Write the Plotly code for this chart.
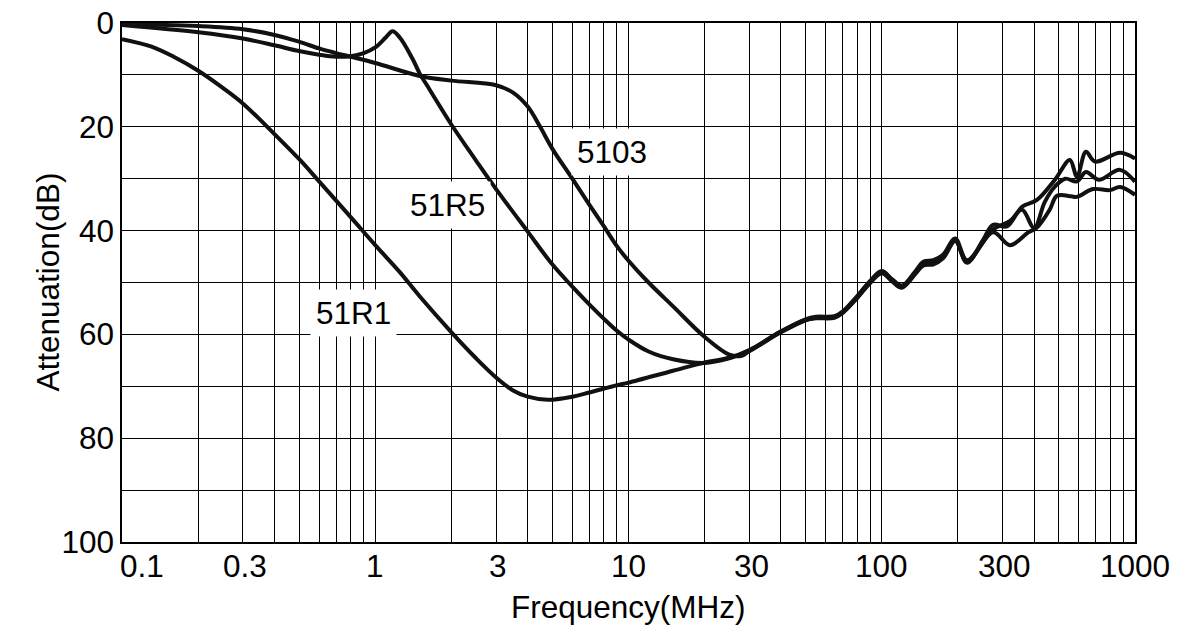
import math
import plotly.graph_objects as go

# ---- data (frequency in MHz, attenuation in dB) ----
f_51R1 = [0.1, 0.13, 0.16, 0.2, 0.25, 0.3, 0.4, 0.5, 0.6, 0.8, 1.0, 1.25, 1.5, 2.0, 2.5, 3.0,
          3.5, 4.0, 4.8, 6.0, 7.0, 9.0, 10, 15, 20, 25, 30, 40, 50, 55, 65, 70, 80, 90, 100,
          110, 120, 135, 146, 160, 175, 195, 217, 275, 321, 380, 410, 460, 492, 560, 590,
          683, 796, 873, 1000]
a_51R1 = [3.1, 4.5, 6.5, 9.2, 12.5, 15.5, 21.4, 26.2, 30.5, 37.4, 42.8, 48.0, 52.7, 59.6,
          64.6, 68.3, 70.8, 72.0, 72.6, 72.0, 71.2, 69.8, 69.3, 67.0, 65.4, 64.5, 63.0, 59.6,
          57.3, 56.8, 56.7, 55.8, 52.8, 49.9, 48.0, 49.6, 50.8, 48.3, 46.5, 46.2, 45.0, 41.8,
          46.0, 40.3, 42.8, 40.3, 39.4, 36.0, 33.3, 33.4, 33.5, 32.0, 32.2, 31.6, 33.1]

f_51R5 = [0.1, 0.2, 0.3, 0.4, 0.5, 0.6, 0.7, 0.8, 0.9, 1.0, 1.1, 1.17, 1.25, 1.4, 1.5, 1.6,
          2.0, 2.5, 3.0, 4.0, 5.0, 6.0, 7.0, 8.0, 9.0, 10, 12, 15, 20, 25, 30, 40, 50, 55,
          65, 70, 80, 90, 100, 110, 120, 135, 146, 160, 175, 195, 217, 275, 320, 358, 400,
          440, 483, 530, 590, 640, 720, 873, 1000]
a_51R5 = [0.4, 1.8, 3.0, 4.3, 5.4, 6.1, 6.5, 6.4, 5.8, 4.7, 2.8, 1.6, 2.8, 6.8, 9.8, 12.0,
          19.6, 26.5, 32.0, 40.2, 46.5, 50.8, 54.2, 57.0, 59.3, 61.0, 63.3, 64.8, 65.5, 64.6,
          63.2, 59.5, 57.1, 56.6, 56.5, 55.6, 52.6, 49.7, 47.8, 49.4, 50.6, 48.0, 46.0, 45.7,
          44.6, 41.5, 45.7, 39.8, 38.2, 36.0, 39.5, 34.5, 31.5, 30.0, 30.5, 28.7, 30.2, 28.3,
          30.6]

f_5103 = [0.1, 0.2, 0.3, 0.4, 0.5, 0.6, 0.7, 0.8, 1.0, 1.5, 2.0, 3.0, 3.5, 4.0, 4.5, 5.0,
          6.0, 7.0, 8.0, 9.0, 10, 12, 15, 20, 25, 28, 30, 40, 50, 55, 65, 70, 80, 90,
          100, 110, 120, 135, 146, 160, 175, 195, 217, 250, 275, 312, 358, 410, 483, 553,
          590, 640, 695, 873, 1000]
a_5103 = [0.2, 0.6, 1.2, 2.3, 3.6, 4.9, 5.8, 6.5, 7.7, 10.2, 11.1, 12.0, 13.4, 16.1, 20.2,
          24.2, 30.0, 35.0, 39.2, 43.0, 45.8, 50.0, 54.6, 60.5, 63.9, 64.1, 63.2,
          59.4, 57.2, 56.9, 56.8, 55.9, 53.0, 50.1, 48.2, 49.8, 51.0, 48.5, 46.7, 46.5, 45.3,
          42.0, 46.2, 42.0, 38.9, 39.2, 35.4, 34.1, 30.2, 26.4, 29.6, 24.8, 26.7, 25.0, 26.1]

labels = ["51R1", "51R5", "5103"]
label_f = [0.817, 1.92, 8.6]
label_db = [55.9, 35.1, 24.9]

x_tick_vals = [0.1, 0.3, 1, 3, 10, 30, 100, 300, 1000]
x_tick_text = ["0.1", "0.3", "1", "3", "10", "30", "100", "300", "1000"]
y_tick_vals = [0, 10, 20, 30, 40, 50, 60, 70, 80, 90, 100]
y_tick_text = ["0", "", "20", "", "40", "", "60", "", "80", "", "100"]

minor_x = [m * d for d in (0.1, 1, 10, 100) for m in range(1, 10)] + [1000]

FONT = "Liberation Sans, Arial, Helvetica, sans-serif"
FS = 31.5
L, R, T, B = 122, 57, 23, 92
PW, PH = 1192 - L - R, 634 - T - B

fig = go.Figure()
for fx, ay, nm in [(f_51R1, a_51R1, "51R1"), (f_51R5, a_51R5, "51R5"), (f_5103, a_5103, "5103")]:
    fig.add_trace(go.Scatter(x=fx, y=ay, mode="lines", name=nm,
                             line=dict(color="#111111", width=4, shape="spline", smoothing=1.0),
                             showlegend=False))

for t, fx, dy in zip(labels, label_f, label_db):
    fig.add_annotation(x=math.log10(fx), y=dy, xref="x", yref="y", text=t,
                       showarrow=False, bgcolor="white", borderpad=5,
                       font=dict(size=FS, color="black", family=FONT))

# x tick labels (0.1 is set right of its tick, as in the original)
for v, t in zip(x_tick_vals, x_tick_text):
    if v == 0.1:
        fig.add_annotation(x=0, xref="paper", y=-(566 - 542) / PH, yref="paper", text=t,
                           showarrow=False, xanchor="left", yanchor="middle", xshift=-4,
                           font=dict(size=FS, color="black", family=FONT))
    else:
        fig.add_annotation(x=math.log10(v), xref="x", y=-(566 - 542) / PH, yref="paper",
                           text=t, showarrow=False, xanchor="center", yanchor="middle",
                           xshift=2 if v in (0.3, 3, 30, 300) else 0,
                           font=dict(size=FS, color="black", family=FONT))

fig.add_annotation(x=0.5, xref="paper", y=-(607 - 542) / PH, yref="paper",
                   text="Frequency(MHz)", showarrow=False, xanchor="center", yanchor="middle",
                   font=dict(size=FS, color="black", family=FONT))
fig.add_annotation(x=(47 - L) / PW, xref="paper", y=0.5, yref="paper",
                   text="Attenuation(dB)", showarrow=False, textangle=-90,
                   xanchor="center", yanchor="middle",
                   font=dict(size=FS, color="black", family=FONT))

fig.update_layout(
    width=1192, height=634,
    margin=dict(l=L, r=R, t=T, b=B),
    paper_bgcolor="white", plot_bgcolor="white",
    font=dict(family=FONT, size=FS, color="black"),
    xaxis=dict(type="log", range=[-1, 3], tickvals=x_tick_vals, showticklabels=False,
               showgrid=True, gridcolor="black", gridwidth=1.2,
               minor=dict(tickvals=minor_x, showgrid=True, gridcolor="black", gridwidth=1.2),
               showline=True, linecolor="black", linewidth=1.5, mirror=True,
               ticks="", zeroline=False, automargin=False),
    yaxis=dict(range=[100, 0], tickvals=y_tick_vals, ticktext=y_tick_text,
               showgrid=True, gridcolor="black", gridwidth=1.2,
               showline=True, linecolor="black", linewidth=1.5, mirror=True,
               ticks="", zeroline=False, automargin=False,
               tickfont=dict(size=FS)),
)

fig.write_html("out.html")
